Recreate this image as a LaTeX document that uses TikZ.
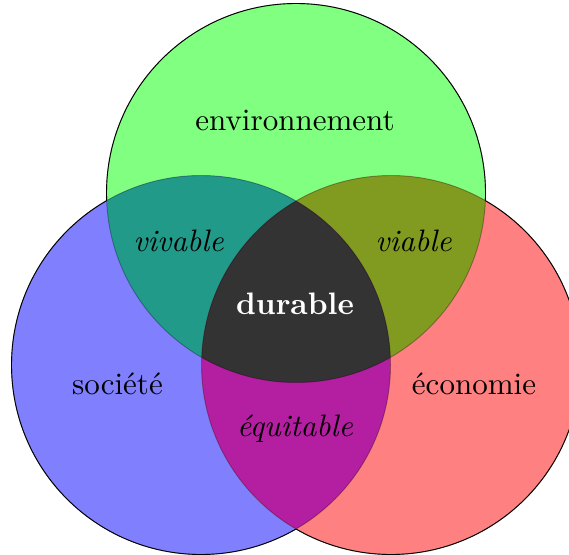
\documentclass[tikz,border=0pt]{standalone}
\usepackage{tikz}
\definecolor{cgreen}{RGB}{128,255,128}
\definecolor{cblue}{RGB}{128,128,255}
\definecolor{cred}{RGB}{255,128,128}
\definecolor{cteal}{RGB}{34,154,138}
\definecolor{colive}{RGB}{128,155,32}
\definecolor{cmag}{RGB}{180,30,160}
\definecolor{ccenter}{RGB}{51,51,51}
\tikzset{
  lbl/.style={anchor=base, inner sep=0pt, font=\fontsize{10.2}{12}\selectfont},
  lblit/.style={lbl, font=\fontsize{10.2}{12}\selectfont\itshape},
  lblbf/.style={lbl, font=\fontsize{10.2}{12}\selectfont\bfseries, text=white},
  edge/.style={line width=0.3pt}
}
\begin{document}
\begin{tikzpicture}[x=0.3287pt, y=-0.3287pt]
\useasboundingbox (0,0) rectangle (569,554);
\coordinate (G) at (296,193);
\coordinate (B) at (201,365);
\coordinate (R) at (391,365);
\def\rad{189.5}
% base fills
\fill[cgreen] (G) circle (\rad);
\fill[cblue] (B) circle (\rad);
\fill[cred] (R) circle (\rad);
% pairwise
\begin{scope}
  \clip (G) circle (\rad);
  \fill[cteal] (B) circle (\rad);
  \fill[colive] (R) circle (\rad);
\end{scope}
\begin{scope}
  \clip (B) circle (\rad);
  \fill[cmag] (R) circle (\rad);
\end{scope}
\begin{scope}
  \clip (G) circle (\rad);
  \clip (B) circle (\rad);
  \fill[ccenter] (R) circle (\rad);
\end{scope}
% inner outlines (faint)
\draw[edge, black, draw opacity=0.3] (G) circle (\rad) (B) circle (\rad) (R) circle (\rad);
% outer outline (full black)
\begin{scope}[even odd rule]
  \clip (-20,-20) rectangle (600,580) (G) circle (\rad);
  \begin{scope}
    \clip (-20,-20) rectangle (600,580) (B) circle (\rad);
    \draw[edge] (R) circle (\rad);
  \end{scope}
  \begin{scope}
    \clip (-20,-20) rectangle (600,580) (R) circle (\rad);
    \draw[edge] (B) circle (\rad);
  \end{scope}
\end{scope}
\begin{scope}[even odd rule]
  \clip (-20,-20) rectangle (600,580) (B) circle (\rad);
  \clip (-20,-20) rectangle (600,580) (R) circle (\rad);
  \draw[edge] (G) circle (\rad);
\end{scope}
% labels
\node[lbl] (env) at (295,131) {environnement};
\node[lbl] (soc) at (117.5,394.3) {société};
\node[lbl] (eco) at (474,394.3) {économie};
\node[lblit] (viv) at (178.5,251.7) {vivable};
\node[lblit] (via) at (413.5,251.7) {viable};
\node[lblit] (equ) at (295,436.7) {équitable};
\node[lblbf] (dur) at (295,314.3) {durable};
\end{tikzpicture}
\end{document}
